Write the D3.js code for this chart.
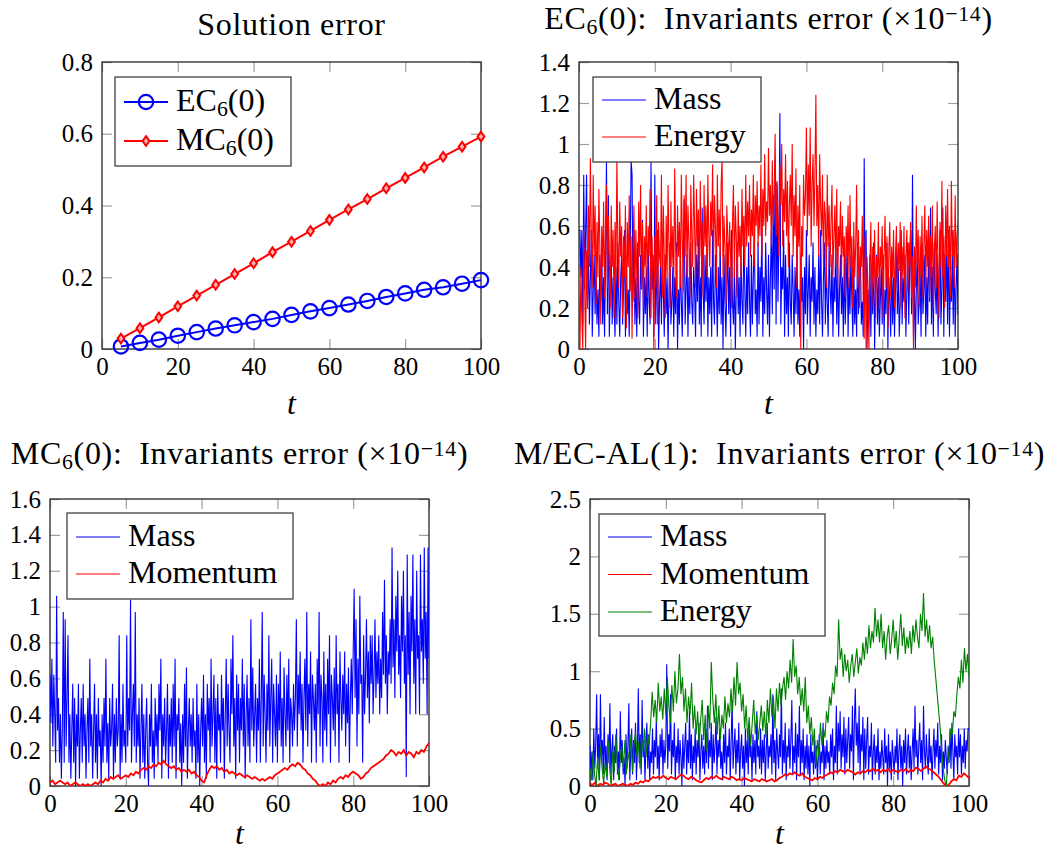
<!DOCTYPE html>
<html>
<head>
<meta charset="utf-8">
<script src="https://cdn.jsdelivr.net/npm/d3@7"></script>
<style>
  body { margin: 0; background: #fff; }
  svg { display: block; }
  text { font-family: "Liberation Serif", "Times New Roman", serif; fill: #000; }
</style>
</head>
<body>
<svg id="chart" width="1060" height="853"></svg>
<script>
// ---- data ----
var xTicks = [0, 20, 40, 60, 80, 100];
var yTicks1 = [0, 0.2, 0.4, 0.6, 0.8];
var yTicks2 = [0, 0.2, 0.4, 0.6, 0.8, 1, 1.2, 1.4];
var yTicks3 = [0, 0.2, 0.4, 0.6, 0.8, 1, 1.2, 1.4, 1.6];
var yTicks4 = [0, 0.5, 1, 1.5, 2, 2.5];

// solution error
var solT  = [5, 10, 15, 20, 25, 30, 35, 40, 45, 50, 55, 60, 65, 70, 75, 80, 85, 90, 95, 100];
var solEC = [0.007, 0.017, 0.026, 0.037, 0.047, 0.057, 0.066, 0.075, 0.084, 0.095,
             0.105, 0.114, 0.124, 0.134, 0.145, 0.155, 0.165, 0.172, 0.182, 0.192];
var solMC = [0.029, 0.058, 0.088, 0.119, 0.149, 0.179, 0.209, 0.239, 0.270, 0.299,
             0.329, 0.360, 0.389, 0.418, 0.448, 0.477, 0.506, 0.536, 0.564, 0.592];

// EC6(0) invariants, samples evenly spaced over t = 0..100
var ec6Mass = [
  0.58,0.58,0.35,0.58,0.12,0.85,0.29,0.58,0.85,0.23,
  0.46,0.12,0.35,0.58,0.06,0.29,0.46,0.17,0.40,0.12,
  0.29,0.06,0.46,0.23,0.52,0.12,0.35,0.06,0.46,0.92,
  0.17,0.75,0.06,0.29,0.46,0.12,0.35,0.23,0.06,0.40,
  0.12,0.52,0.23,0.06,0.35,0.46,0.12,0.29,0.58,0.06,
  0.40,0.17,0.29,0.06,0.46,0.92,0.85,0.23,0.58,0.12,
  0.35,0.06,0.52,0.23,0.12,0.46,0.29,0.63,0.06,0.35,
  0.17,0.40,0.06,0.52,0.23,0.12,0.92,0.29,0.46,0.06,
  0.85,0.12,0.35,0.58,0.00,0.23,0.40,0.12,0.52,0.29,
  0.06,0.46,0.17,0.35,0.00,0.29,0.52,0.12,0.23,0.40,
  0.06,0.35,0.17,0.52,0.00,0.29,0.12,0.46,0.23,0.06,
  0.40,0.73,0.12,0.29,0.46,0.06,0.35,0.17,0.52,0.23,
  0.12,0.40,0.29,0.06,0.46,0.23,0.58,0.12,0.35,0.06,
  0.69,0.29,0.12,0.46,0.23,0.52,0.06,0.35,0.17,0.40,
  0.06,0.58,0.23,0.12,0.46,0.29,0.06,0.40,0.17,0.52,
  0.12,0.35,0.00,0.46,0.23,0.06,0.29,0.52,0.17,0.40,
  0.06,0.58,0.23,0.12,0.40,0.00,0.29,0.52,0.17,0.35,
  0.06,0.46,0.23,0.12,0.58,0.29,0.06,0.40,0.17,0.52,
  0.23,0.06,0.46,0.12,0.35,0.58,0.17,0.29,0.06,0.52,
  0.12,0.40,0.23,0.63,0.06,0.35,0.17,0.52,0.29,0.12,
  0.46,0.06,0.35,0.58,0.17,0.75,0.29,0.92,0.12,0.81,
  0.23,0.52,1.15,0.12,0.40,0.29,0.58,0.06,0.46,0.17,
  0.35,0.06,0.52,0.23,0.12,0.46,0.29,0.06,0.40,0.17,
  0.52,0.12,0.29,0.06,0.46,0.23,0.35,0.00,0.40,0.17,
  0.58,0.12,0.29,0.46,0.06,0.35,0.23,0.52,0.12,0.40,
  0.06,0.29,0.17,0.46,0.12,0.58,0.23,0.06,0.35,0.52,
  0.12,0.40,0.23,0.06,0.52,0.29,0.17,0.46,0.06,0.35,
  0.23,0.58,0.12,0.40,0.06,0.29,0.46,0.17,0.35,0.06,
  0.46,0.12,0.29,0.52,0.06,0.35,0.17,0.46,0.23,0.06,
  0.40,0.12,0.29,0.06,0.52,0.17,0.35,0.46,0.12,0.23,
  0.06,0.93,0.23,0.58,0.00,0.29,0.12,0.46,0.06,0.35,
  0.17,0.52,0.00,0.29,0.46,0.12,0.35,0.06,0.23,0.40,
  0.12,0.46,0.06,0.29,0.17,0.52,0.00,0.35,0.23,0.06,
  0.46,0.12,0.35,0.06,0.29,0.52,0.17,0.40,0.06,0.23,
  0.58,0.12,0.35,0.23,0.46,0.06,0.29,0.52,0.12,0.40,
  0.58,0.17,0.85,0.06,0.35,0.00,0.29,0.46,0.12,0.23,
  0.40,0.06,0.52,0.17,0.29,0.46,0.06,0.35,0.12,0.58,
  0.23,0.69,0.12,0.40,0.06,0.52,0.29,0.17,0.46,0.06,
  0.35,0.58,0.12,0.29,0.69,0.06,0.46,0.23,0.52,0.12,
  0.58,0.06,0.35,0.23,0.46,0.12,0.52,0.06,0.29,0.46,
  0.17];
var ec6Energy = [
  0.25,0.00,0.40,0.15,0.00,0.58,0.30,0.00,0.48,0.20,
  0.70,0.40,0.93,0.55,0.30,0.85,0.45,0.70,0.22,0.62,
  0.35,0.78,0.50,0.12,0.60,0.40,0.72,0.25,0.55,0.80,
  0.30,0.65,0.45,0.20,0.70,0.40,0.58,0.15,0.62,0.35,
  0.93,0.50,0.30,0.72,0.45,0.60,0.15,0.55,0.35,0.70,
  0.10,0.62,0.40,0.75,0.28,0.55,0.05,0.48,0.70,0.25,
  0.58,0.35,0.15,0.72,0.45,0.80,0.30,0.62,0.20,0.55,
  0.40,0.70,0.25,0.60,0.45,0.78,0.15,0.55,0.35,0.00,
  0.55,0.30,0.75,0.12,0.62,0.45,0.40,0.85,0.25,0.70,
  0.45,0.15,0.65,0.35,0.80,0.50,0.20,0.72,0.40,0.60,
  0.30,0.88,0.50,0.25,0.70,0.45,0.62,0.30,0.85,0.55,
  0.28,0.75,0.45,0.85,0.35,0.70,0.52,0.25,0.80,0.55,
  0.40,0.85,0.60,0.30,0.78,0.50,0.68,0.35,0.82,0.45,
  0.62,0.25,0.80,0.50,0.70,0.35,0.85,0.55,0.40,0.72,
  0.55,0.90,0.40,0.75,0.60,0.30,0.85,0.50,0.68,0.45,
  0.80,0.93,0.35,0.65,0.50,0.22,0.70,0.55,0.40,0.62,
  0.45,0.20,0.62,0.80,0.35,0.70,0.55,0.25,0.72,0.45,
  0.60,0.35,0.78,0.50,0.65,0.40,0.85,0.50,0.72,0.55,
  0.80,0.45,0.68,0.55,0.85,0.40,0.75,0.60,0.82,0.50,
  0.70,0.55,0.90,0.45,0.78,0.60,0.95,0.55,0.72,0.62,
  0.98,0.65,0.80,0.50,0.92,0.60,0.75,1.05,0.55,0.82,
  0.65,0.45,0.90,0.70,1.00,0.50,0.78,0.62,0.95,0.55,
  0.82,0.40,0.70,0.85,0.60,1.00,0.45,0.75,0.55,0.88,
  0.30,0.70,0.50,0.80,0.00,0.60,0.45,0.85,0.65,0.75,
  1.08,0.55,0.90,0.65,1.08,0.50,0.80,0.95,0.60,0.85,
  1.24,0.60,0.80,0.45,0.95,0.70,0.55,0.85,0.40,0.72,
  0.65,0.30,0.85,0.50,0.70,0.40,0.62,0.80,0.35,0.55,
  0.70,0.40,0.78,0.30,0.60,0.50,0.72,0.35,0.65,0.45,
  0.55,0.25,0.60,0.45,0.70,0.30,0.75,0.40,0.55,0.20,
  0.62,0.35,0.50,0.80,0.30,0.58,0.20,0.50,0.40,0.65,
  0.25,0.05,0.55,0.00,0.45,0.30,0.00,0.40,0.62,0.20,
  0.50,0.30,0.58,0.15,0.45,0.35,0.62,0.20,0.50,0.40,
  0.60,0.15,0.45,0.65,0.30,0.55,0.10,0.48,0.62,0.25,
  0.50,0.35,0.58,0.20,0.45,0.60,0.28,0.52,0.38,0.62,
  0.20,0.50,0.35,0.60,0.15,0.45,0.58,0.28,0.52,0.40,
  0.62,0.25,0.45,0.00,0.50,0.30,0.70,0.40,0.58,0.20,
  0.55,0.35,0.65,0.25,0.50,0.70,0.30,0.58,0.40,0.65,
  0.25,0.55,0.35,0.70,0.20,0.48,0.60,0.30,0.72,0.40,
  0.15,0.62,0.40,0.82,0.35,0.55,0.20,0.70,0.45,0.78,
  0.40,0.60,0.25,0.82,0.45,0.58,0.30,0.75,0.40,0.55,
  0.62];

// MC6(0) invariants
var mc6Mass = [
  0.62,0.35,0.71,0.22,0.62,0.40,0.13,1.06,0.31,0.49,
  0.13,0.40,0.04,0.31,0.97,0.13,0.93,0.22,0.49,0.84,
  0.13,0.40,0.04,0.31,0.57,0.13,0.49,0.00,0.40,0.22,
  0.57,0.04,0.31,0.49,0.13,0.57,0.22,0.40,0.04,0.31,
  0.49,0.13,0.71,0.22,0.40,0.04,0.31,0.57,0.13,0.40,
  0.04,0.49,0.22,0.31,0.00,0.40,0.13,0.49,0.22,0.71,
  0.13,0.35,0.04,0.49,0.22,0.31,0.57,0.04,0.40,0.13,
  0.49,0.22,0.31,0.84,0.04,0.40,0.13,0.57,0.22,0.31,
  0.13,0.84,0.22,0.49,0.31,1.04,0.13,0.40,0.57,0.22,
  0.97,0.13,0.40,0.22,0.49,0.04,0.31,0.57,0.13,0.40,
  0.04,0.31,0.49,0.13,0.00,0.40,0.22,0.57,0.13,0.31,
  0.04,0.49,0.22,0.40,0.13,0.57,0.31,0.71,0.04,0.40,
  0.22,0.49,0.13,0.31,0.57,0.04,0.40,0.22,0.49,0.13,
  0.57,0.22,0.71,0.04,0.40,0.31,0.49,0.13,0.35,0.00,
  0.40,0.13,0.57,0.22,0.66,0.04,0.31,0.49,0.22,0.40,
  0.13,0.49,0.22,0.31,0.04,0.57,0.13,0.40,0.00,0.31,
  0.49,0.22,0.62,0.13,0.40,0.04,0.57,0.31,0.49,0.13,
  0.71,0.22,0.40,0.62,0.13,0.49,0.04,0.57,0.31,0.40,
  0.13,0.62,0.31,0.49,0.04,0.40,0.71,0.22,0.57,0.31,
  0.13,0.71,0.40,0.84,0.22,0.49,0.04,0.62,0.31,0.57,
  0.13,0.49,0.31,0.71,0.22,0.57,0.04,0.40,0.62,0.22,
  0.49,0.13,0.93,0.31,0.66,0.22,0.40,0.57,0.13,0.49,
  0.31,0.71,0.13,0.49,0.97,0.22,0.62,0.40,0.13,0.57,
  0.31,0.84,0.22,0.49,0.71,0.13,0.57,0.40,0.22,0.62,
  0.13,0.57,0.31,0.75,0.22,0.49,0.13,0.66,0.40,0.22,
  0.62,0.31,0.71,0.13,0.49,0.40,0.22,0.57,0.31,0.49,
  0.93,0.22,0.62,0.40,0.75,0.31,0.57,0.13,0.49,0.71,
  0.31,0.97,0.22,0.57,0.40,0.75,0.13,0.62,0.49,0.31,
  0.57,0.13,0.71,0.40,0.97,0.22,0.62,0.49,0.13,0.75,
  0.31,0.57,0.22,0.71,0.40,0.84,0.13,0.62,0.49,0.31,
  0.66,0.22,0.84,0.40,0.57,0.13,0.75,0.49,0.31,0.62,
  0.40,0.75,0.22,0.57,0.35,0.66,0.13,0.49,0.71,0.40,
  0.75,1.10,0.49,0.93,0.22,0.71,0.40,1.06,0.57,0.62,
  0.13,0.84,0.40,0.62,0.93,0.49,0.75,0.35,0.84,0.57,
  0.84,0.40,0.62,0.93,0.49,0.75,0.57,0.84,0.40,0.71,
  0.49,0.97,0.62,1.15,0.57,0.84,0.40,0.75,0.62,0.93,
  0.57,1.33,0.66,0.93,0.49,1.06,0.75,1.20,0.62,0.84,
  0.49,1.06,0.75,1.20,0.57,0.84,0.05,1.29,0.62,0.97,
  0.40,1.06,0.75,1.29,0.57,0.93,0.40,1.20,0.71,0.84,
  0.40,1.29,0.75,0.93,0.57,1.33,0.71,0.97,0.40,1.33,
  0.71];
var mc6Momentum = [
  0.02,0.03,0.01,0.02,0.03,0.02,0.01,0.02,0.00,0.01,0.02,0.01,0.00,0.01,0.00,
  0.01,0.00,0.01,0.02,0.01,0.03,0.02,0.04,0.03,0.05,0.04,0.05,0.06,0.04,0.05,
  0.06,0.05,0.07,0.06,0.08,0.07,0.09,0.10,0.09,0.11,0.10,0.12,0.11,0.13,0.12,
  0.14,0.12,0.11,0.10,0.11,0.09,0.10,0.08,0.09,0.08,0.09,0.07,0.08,0.06,0.05,
  0.03,0.02,0.06,0.09,0.11,0.10,0.11,0.09,0.10,0.08,0.09,0.07,0.08,0.07,0.06,
  0.07,0.06,0.05,0.06,0.05,0.04,0.05,0.04,0.03,0.04,0.03,0.04,0.05,0.04,0.06,
  0.07,0.08,0.09,0.10,0.09,0.11,0.12,0.11,0.13,0.12,0.10,0.09,0.07,0.06,0.04,
  0.03,0.01,0.00,0.01,0.00,0.02,0.01,0.03,0.02,0.04,0.05,0.04,0.06,0.05,0.07,
  0.08,0.07,0.06,0.04,0.05,0.07,0.08,0.10,0.11,0.12,0.13,0.14,0.15,0.17,0.18,
  0.20,0.19,0.17,0.19,0.18,0.20,0.17,0.19,0.18,0.16,0.19,0.18,0.20,0.19,0.22,
  0.24];

// M/EC-AL(1) invariants
var alMass = [
  0.35,0.10,0.30,0.05,0.50,0.15,0.35,0.80,0.20,0.45,
  0.05,0.80,0.25,0.40,0.10,0.60,0.15,0.35,0.05,0.45,
  0.20,0.72,0.10,0.30,0.45,0.05,0.35,0.20,0.50,0.10,
  0.30,0.05,0.65,0.20,0.40,0.10,0.25,0.00,0.45,0.15,
  0.35,0.72,0.05,0.30,0.50,0.10,0.40,0.20,0.55,0.05,
  0.30,0.85,0.20,0.45,0.10,0.75,0.25,0.40,0.05,0.35,
  0.55,0.15,0.45,0.05,0.30,0.20,0.50,0.10,0.40,0.25,
  0.60,0.15,0.35,0.05,0.45,0.25,0.50,0.10,0.40,0.20,
  0.35,1.06,0.15,0.45,0.30,0.80,0.10,0.40,0.25,0.55,
  0.05,0.35,0.20,0.50,0.10,0.40,0.25,0.00,0.45,0.15,
  0.35,0.55,0.10,0.40,0.20,0.65,0.15,0.45,0.05,0.35,
  0.20,0.50,0.10,0.40,0.25,0.55,0.05,0.30,0.45,0.15,
  0.35,0.10,0.50,0.20,0.70,0.15,0.40,0.25,0.55,0.05,
  0.45,0.20,0.35,0.60,0.10,0.40,0.25,0.50,0.15,0.30,
  0.05,0.45,0.20,0.55,0.10,0.35,0.25,0.50,0.05,0.40,
  0.75,0.15,0.35,0.50,0.10,0.40,0.20,0.55,0.05,0.30,
  0.45,0.15,0.35,0.00,0.50,0.20,0.40,0.10,0.55,0.25,
  0.35,0.05,0.45,0.20,0.40,0.10,0.65,0.25,0.35,0.15,
  0.50,0.10,0.40,0.20,0.45,0.05,0.30,0.55,0.15,0.35,
  0.25,0.45,0.10,0.80,0.20,0.40,0.05,0.50,0.30,0.15,
  0.45,0.25,0.85,0.10,0.40,0.20,0.55,0.05,0.35,0.25,
  0.50,0.15,0.40,0.75,0.10,0.35,0.20,0.55,0.05,0.45,
  0.25,0.70,0.10,0.40,0.20,0.50,0.05,0.35,0.15,0.45,
  0.10,0.35,0.00,0.45,0.20,0.30,0.10,0.40,0.15,0.35,
  0.05,0.25,0.45,0.10,0.30,0.20,0.55,0.05,0.35,0.15,
  0.40,0.20,0.30,0.10,0.45,0.25,0.50,0.05,0.35,0.20,
  0.70,0.10,0.55,0.30,0.65,0.15,0.45,0.25,0.60,0.10,
  0.50,0.20,0.40,0.60,0.15,0.45,0.30,0.70,0.05,0.55,
  0.85,0.35,0.55,0.20,0.70,0.10,0.45,0.30,0.60,0.05,
  0.50,0.15,0.40,0.60,0.10,0.35,0.25,0.55,0.05,0.30,
  0.45,0.10,0.35,0.20,0.50,0.05,0.30,0.15,0.40,0.25,
  0.10,0.50,0.20,0.35,0.00,0.45,0.15,0.30,0.05,0.40,
  0.25,0.10,0.35,0.20,0.50,0.05,0.30,0.45,0.15,0.35,
  0.00,0.40,0.20,0.50,0.10,0.30,0.45,0.15,0.35,0.05,
  0.30,0.50,0.15,0.70,0.25,0.40,0.10,0.35,0.55,0.20,
  0.40,0.05,0.70,0.30,0.15,0.45,0.25,0.10,0.50,0.20,
  0.35,0.05,0.30,0.50,0.15,0.40,0.25,0.55,0.10,0.35,
  0.20,0.45,0.05,0.30,0.15,0.40,0.25,0.10,0.35,0.20,
  0.50,0.15,0.55,0.30,0.05,0.45,0.25,0.35,0.10,0.50,
  0.25,0.45,0.10,0.35,0.20,0.50,0.15,0.40,0.30,0.50,
  0.50];
var alMomentum = [
  0.02,0.01,0.03,0.00,0.02,0.01,0.03,0.02,0.00,0.01,0.02,0.00,0.01,0.02,0.01,
  0.00,0.02,0.01,0.03,0.02,0.04,0.03,0.05,0.04,0.06,0.08,0.07,0.08,0.07,0.09,
  0.07,0.06,0.08,0.07,0.06,0.08,0.10,0.09,0.07,0.06,0.08,0.07,0.05,0.04,0.03,
  0.05,0.07,0.06,0.08,0.07,0.09,0.07,0.06,0.08,0.07,0.06,0.08,0.07,0.05,0.06,
  0.05,0.07,0.06,0.05,0.04,0.06,0.05,0.04,0.06,0.05,0.04,0.05,0.06,0.04,0.05,
  0.07,0.08,0.10,0.09,0.11,0.10,0.12,0.10,0.09,0.11,0.08,0.07,0.06,0.05,0.07,
  0.06,0.08,0.07,0.09,0.10,0.12,0.11,0.13,0.12,0.14,0.13,0.12,0.14,0.13,0.12,
  0.10,0.12,0.11,0.13,0.12,0.14,0.13,0.15,0.13,0.14,0.12,0.14,0.13,0.15,0.12,
  0.14,0.13,0.12,0.14,0.13,0.15,0.12,0.14,0.13,0.16,0.15,0.13,0.15,0.17,0.15,
  0.14,0.12,0.10,0.08,0.05,0.02,0.00,0.01,0.04,0.06,0.05,0.09,0.08,0.11,0.09,
  0.07];
var alEnergy = [
  0.15,0.05,0.30,0.10,0.00,0.25,0.05,0.35,0.15,0.02,
  0.20,0.08,0.40,0.15,0.00,0.30,0.12,0.45,0.20,0.05,
  0.25,0.35,0.15,0.40,0.10,0.30,0.20,0.45,0.12,0.35,
  0.47,0.25,0.38,0.15,0.42,0.30,0.50,0.25,0.45,0.35,
  0.55,0.82,0.60,0.75,0.55,0.90,0.65,0.78,0.58,0.85,
  0.62,0.95,0.70,0.55,0.88,0.65,1.00,0.72,0.85,1.15,
  0.80,0.95,0.65,0.85,0.55,0.78,0.62,0.90,0.50,0.70,
  0.45,0.65,0.35,0.58,0.75,0.40,0.62,0.30,0.70,0.50,
  1.08,0.75,0.55,0.80,0.45,0.70,0.40,0.62,0.50,0.78,
  0.55,0.72,0.60,0.85,0.65,0.95,0.70,1.08,0.80,0.90,
  0.65,0.80,0.50,0.70,0.40,0.60,0.35,0.55,0.75,0.45,
  0.62,0.40,0.55,0.70,0.48,0.65,0.42,0.75,0.55,0.85,
  0.60,0.78,0.50,0.85,0.65,0.90,0.70,0.85,0.95,0.75,
  1.00,0.85,1.10,0.90,1.28,0.95,1.05,0.80,0.95,0.70,
  0.85,0.65,0.95,0.55,0.70,0.45,0.60,0.35,0.50,0.18,
  0.40,0.25,0.55,0.35,0.50,0.42,0.65,0.55,0.78,0.70,
  0.90,0.80,1.05,0.95,1.45,1.10,1.20,0.95,1.15,1.00,
  1.10,0.90,1.05,1.15,0.95,1.08,1.20,0.98,1.12,1.05,
  1.25,1.10,1.30,1.15,1.40,1.20,1.35,1.25,1.55,1.30,
  1.45,1.25,1.50,1.20,1.35,1.10,1.30,1.40,1.15,1.28,
  1.45,1.20,1.35,1.10,1.30,1.50,1.22,1.38,1.15,1.30,
  1.20,1.35,1.15,1.40,1.25,1.45,1.30,1.20,1.50,1.35,
  1.68,1.30,1.45,1.25,1.40,1.20,1.30,1.10,0.95,0.80,
  0.65,0.50,0.30,0.15,0.05,0.00,0.20,0.35,0.50,0.45,
  0.65,0.60,0.80,0.95,0.85,1.10,0.90,1.20,1.00,1.15,
  0.95];

// ---- drawing ----
var W = 379, H = 287, TICK = 10;
var FONT = '"Liberation Serif", "Times New Roman", serif';
var BLUE = '#0000ff', RED = '#ff0000', GREEN = '#008000';
var svg = d3.select('#chart').style('font-family', FONT);

// text with sub/superscripts: parts = [[string, 'sub'|'sup'|undefined], ...]
function richText(sel, parts, size) {
	var shift = 0;
	sel.style('font-family', FONT);
	parts.forEach(function(p) {
		var ts = sel.append('tspan').text(p[0]);
		var target = p[1] == 'sub' ? size * 0.16 : p[1] == 'sup' ? -size * 0.24 : 0;
		ts.attr('dy', target - shift);
		shift = target;
		if (p[1]) ts.attr('font-size', size * 0.68);
	});
	return sel;
}

function evenT(values) {
	return values.map(function(v, i) { return [100 * i / (values.length - 1), v]; });
}

function drawPanel(o) {
	var x = d3.scaleLinear().domain([0, 100]).range([0, W]);
	var y = d3.scaleLinear().domain([0, o.yMax]).range([H, 0]);
	var g = svg.append('g').attr('transform', 'translate(' + o.left + ',' + o.top + ')');
	var fmt = function(d) { return String(+d.toFixed(2)); };

	g.append('clipPath').attr('id', 'clip' + o.id)
		.append('rect').attr('width', W).attr('height', H);

	g.append('g').attr('class', 'axis').attr('transform', 'translate(0,' + H + ')')
		.call(d3.axisBottom(x).tickValues(xTicks).tickFormat(fmt).tickSizeInner(-TICK).tickSizeOuter(0).tickPadding(8));
	g.append('g').attr('class', 'axis')
		.call(d3.axisTop(x).tickValues(xTicks).tickFormat('').tickSizeInner(-TICK).tickSizeOuter(0));
	g.append('g').attr('class', 'axis')
		.call(d3.axisLeft(y).tickValues(o.yTicks).tickFormat(fmt).tickSizeInner(-TICK).tickSizeOuter(0).tickPadding(9));
	g.append('g').attr('class', 'axis').attr('transform', 'translate(' + W + ',0)')
		.call(d3.axisRight(y).tickValues(o.yTicks).tickFormat('').tickSizeInner(-TICK).tickSizeOuter(0));
	g.selectAll('.axis').attr('font-family', null).attr('font-size', null);
	g.selectAll('.axis .domain').remove();
	g.selectAll('.axis line').attr('stroke', '#a0a0a0').attr('stroke-width', 1.2);
	g.selectAll('.axis text').attr('font-size', 25).attr('fill', '#000').style('font-family', FONT);

	g.append('rect').attr('width', W).attr('height', H)
		.attr('fill', 'none').attr('stroke', '#262626').attr('stroke-width', 1.3);

	var line = d3.line().x(function(d) { return x(d[0]); }).y(function(d) { return y(d[1]); });
	var plot = g.append('g');
	if (o.clip) plot.attr('clip-path', 'url(#clip' + o.id + ')');
	o.series.forEach(function(s) {
		plot.append('path').attr('d', line(s.pts))
			.attr('fill', 'none').attr('stroke', s.color).attr('stroke-width', s.width);
		if (s.mark) drawMarks(g, s.pts.map(function(d) { return [x(d[0]), y(d[1])]; }), s);
	});

	// title and axis label
	richText(g.append('text').attr('x', W / 2).attr('y', o.titleY).attr('text-anchor', 'middle')
		.attr('font-size', 32).attr('letter-spacing', 0.7), o.title, 32);
	g.append('text').attr('x', W / 2).attr('y', H + o.labelDy).attr('text-anchor', 'middle')
		.attr('font-size', 32).attr('font-style', 'italic').style('font-family', FONT).text('t');

	// legend
	var L = o.legend;
	var lg = g.append('g').attr('transform', 'translate(' + L.x + ',' + L.y + ')');
	lg.append('rect').attr('width', L.w).attr('height', L.h)
		.attr('fill', '#fff').attr('stroke', '#404040').attr('stroke-width', 1.3);
	o.series.forEach(function(s, i) {
		var ry = L.row0 + i * L.step;
		lg.append('line').attr('x1', 9).attr('x2', 53).attr('y1', ry).attr('y2', ry)
			.attr('stroke', s.color).attr('stroke-width', s.mark ? s.width : 1.1);
		if (s.mark) drawMarks(lg, [[31, ry]], s);
		richText(lg.append('text').attr('x', 61).attr('y', ry + 9).attr('font-size', 32), s.label, 32);
	});
}

function drawMarks(g, pts, s) {
	if (s.mark == 'circle') {
		g.selectAll(null).data(pts).enter().append('circle')
			.attr('cx', function(d) { return d[0]; }).attr('cy', function(d) { return d[1]; })
			.attr('r', 7.2).attr('fill', 'none').attr('stroke', s.color).attr('stroke-width', 2.2);
	} else {
		g.selectAll(null).data(pts).enter().append('path')
			.attr('d', function(d) { return 'M' + d[0] + ',' + (d[1] - 4.8) + 'L' + (d[0] + 3.4) + ',' + d[1] +
				'L' + d[0] + ',' + (d[1] + 4.8) + 'L' + (d[0] - 3.4) + ',' + d[1] + 'Z'; })
			.attr('fill', '#ffb0b0').attr('stroke', s.color).attr('stroke-width', 2);
	}
}

var invTitle = '(0):\u2002Invariants error (\u00d710';

drawPanel({
	id: 1, left: 102, top: 62, yMax: 0.8, yTicks: yTicks1, titleY: -27, labelDy: 65, clip: false,
	title: [['Solution error']],
	legend: { x: 13, y: 15, w: 176, h: 89, row0: 25, step: 39 },
	series: [
		{ label: [['EC'], ['6', 'sub'], ['(0)']], color: BLUE, width: 2, mark: 'circle',
		  pts: solT.map(function(t, i) { return [t, solEC[i]]; }) },
		{ label: [['MC'], ['6', 'sub'], ['(0)']], color: RED, width: 2, mark: 'diamond',
		  pts: solT.map(function(t, i) { return [t, solMC[i]]; }) }
	]
});

drawPanel({
	id: 2, left: 579, top: 62, yMax: 1.4, yTicks: yTicks2, titleY: -33, labelDy: 65, clip: true,
	title: [['EC'], ['6', 'sub'], [invTitle], ['\u221214', 'sup'], [')']],
	legend: { x: 14, y: 15, w: 168, h: 85, row0: 23, step: 37 },
	series: [
		{ label: [['Mass']], color: BLUE, width: 1.1, pts: evenT(ec6Mass) },
		{ label: [['Energy']], color: RED, width: 1.1, pts: evenT(ec6Energy) }
	]
});

drawPanel({
	id: 3, left: 50, top: 499, yMax: 1.6, yTicks: yTicks3, titleY: -35, labelDy: 58, clip: true,
	title: [['MC'], ['6', 'sub'], [invTitle], ['\u221214', 'sup'], [')']],
	legend: { x: 17, y: 14, w: 226, h: 86, row0: 24, step: 37 },
	series: [
		{ label: [['Mass']], color: BLUE, width: 1.1, pts: evenT(mc6Mass) },
		{ label: [['Momentum']], color: RED, width: 1.8, pts: evenT(mc6Momentum) }
	]
});

drawPanel({
	id: 4, left: 590, top: 499, yMax: 2.5, yTicks: yTicks4, titleY: -35, labelDy: 58, clip: true,
	title: [['M/EC-AL(1):\u2002Invariants error (\u00d710'], ['\u221214', 'sup'], [')']],
	legend: { x: 9, y: 15, w: 226, h: 122, row0: 23, step: 37.5 },
	series: [
		{ label: [['Mass']], color: BLUE, width: 1.1, pts: evenT(alMass) },
		{ label: [['Momentum']], color: RED, width: 1.8, pts: evenT(alMomentum) },
		{ label: [['Energy']], color: GREEN, width: 1.1, pts: evenT(alEnergy) }
	]
});
</script>
</body>
</html>
